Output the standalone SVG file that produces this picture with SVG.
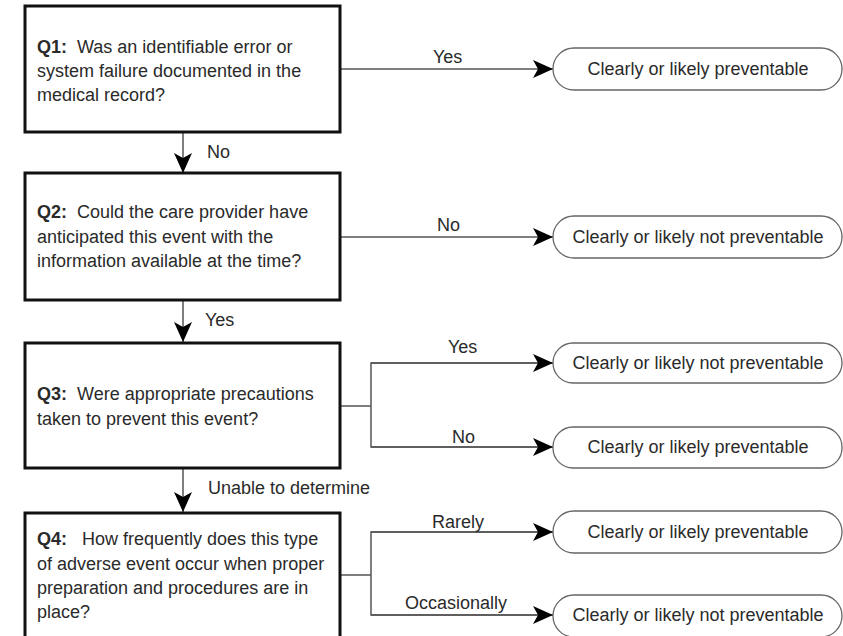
<svg xmlns="http://www.w3.org/2000/svg" width="843" height="636" viewBox="0 0 843 636">
<style>
text { font-family: "Liberation Sans", Arial, sans-serif; font-size: 18px; fill: #2a2a2a; }
.q { fill: #fff; stroke: #111; stroke-width: 3; }
.t { fill: #fff; stroke: #666; stroke-width: 1.3; }
.c { fill: none; stroke: #555; stroke-width: 1.5; }
.mid { text-anchor: middle; }
b, .b { font-weight: bold; }
</style>
<defs>
<marker id="ah" viewBox="0 0 20 18" refX="20" refY="9" markerWidth="20" markerHeight="18" markerUnits="userSpaceOnUse" orient="auto">
<path d="M0,0 L20,9 L0,18 L5,9 Z" fill="#000"/>
</marker>
</defs>
<rect width="843" height="636" fill="#fff"/>

<g id="connectors">
<line class="c" x1="340" y1="69" x2="553" y2="69" marker-end="url(#ah)"/>
<line class="c" x1="183" y1="132" x2="183" y2="173" marker-end="url(#ah)"/>
<line class="c" x1="340" y1="237" x2="553" y2="237" marker-end="url(#ah)"/>
<line class="c" x1="183" y1="300" x2="183" y2="342" marker-end="url(#ah)"/>
<polyline class="c" points="340,406 371,406"/>
<polyline class="c" points="553,363 371,363 371,447 553,447"/>
<line class="c" x1="371" y1="363" x2="553" y2="363" marker-end="url(#ah)"/>
<line class="c" x1="371" y1="447" x2="553" y2="447" marker-end="url(#ah)"/>
<line class="c" x1="183" y1="468" x2="183" y2="512" marker-end="url(#ah)"/>
<polyline class="c" points="340,575 371,575"/>
<polyline class="c" points="553,532 371,532 371,615 553,615"/>
<line class="c" x1="371" y1="532" x2="553" y2="532" marker-end="url(#ah)"/>
<line class="c" x1="371" y1="615" x2="553" y2="615" marker-end="url(#ah)"/>
<text x="433" y="63">Yes</text>
<text x="207" y="158">No</text>
<text x="437" y="231">No</text>
<text x="205" y="326">Yes</text>
<text x="448" y="353">Yes</text>
<text x="452" y="443">No</text>
<text x="208" y="494">Unable to determine</text>
<text x="432" y="528">Rarely</text>
<text x="405" y="609">Occasionally</text>
</g>

<g id="q1">
<rect class="q" x="25" y="6" width="315" height="126"/>
<text x="37" y="53" xml:space="preserve"><tspan class="b">Q1:</tspan>  Was an identifiable error or</text>
<text x="37" y="77">system failure documented in the</text>
<text x="37" y="101">medical record?</text>
</g>

<g id="q2">
<rect class="q" x="25" y="173" width="315" height="127"/>
<text x="37" y="218" xml:space="preserve"><tspan class="b">Q2:</tspan>  Could the care provider have</text>
<text x="37" y="243">anticipated this event with the</text>
<text x="37" y="267">information available at the time?</text>
</g>

<g id="q3">
<rect class="q" x="25" y="343" width="315" height="125"/>
<text x="37" y="400" xml:space="preserve"><tspan class="b">Q3:</tspan>  Were appropriate precautions</text>
<text x="37" y="425">taken to prevent this event?</text>
</g>

<g id="q4">
<rect class="q" x="25" y="513" width="315" height="127"/>
<text x="37" y="545" xml:space="preserve"><tspan class="b">Q4:</tspan>   How frequently does this type</text>
<text x="37" y="570">of adverse event occur when proper</text>
<text x="37" y="594">preparation and procedures are in</text>
<text x="37" y="618">place?</text>
</g>

<g id="t1">
<rect class="t" x="553" y="48" width="289" height="42" rx="21"/>
<text class="mid" x="698" y="75">Clearly or likely preventable</text>
</g>
<g id="t2">
<rect class="t" x="553" y="216" width="289" height="42" rx="21"/>
<text class="mid" x="698" y="243">Clearly or likely not preventable</text>
</g>
<g id="t3">
<rect class="t" x="553" y="343" width="289" height="40" rx="20"/>
<text class="mid" x="698" y="369">Clearly or likely not preventable</text>
</g>
<g id="t4">
<rect class="t" x="553" y="427" width="289" height="41" rx="20"/>
<text class="mid" x="698" y="453">Clearly or likely preventable</text>
</g>
<g id="t5">
<rect class="t" x="553" y="511" width="289" height="42" rx="21"/>
<text class="mid" x="698" y="538">Clearly or likely preventable</text>
</g>
<g id="t6">
<rect class="t" x="553" y="595" width="289" height="42" rx="21"/>
<text class="mid" x="698" y="621">Clearly or likely not preventable</text>
</g>
</svg>
